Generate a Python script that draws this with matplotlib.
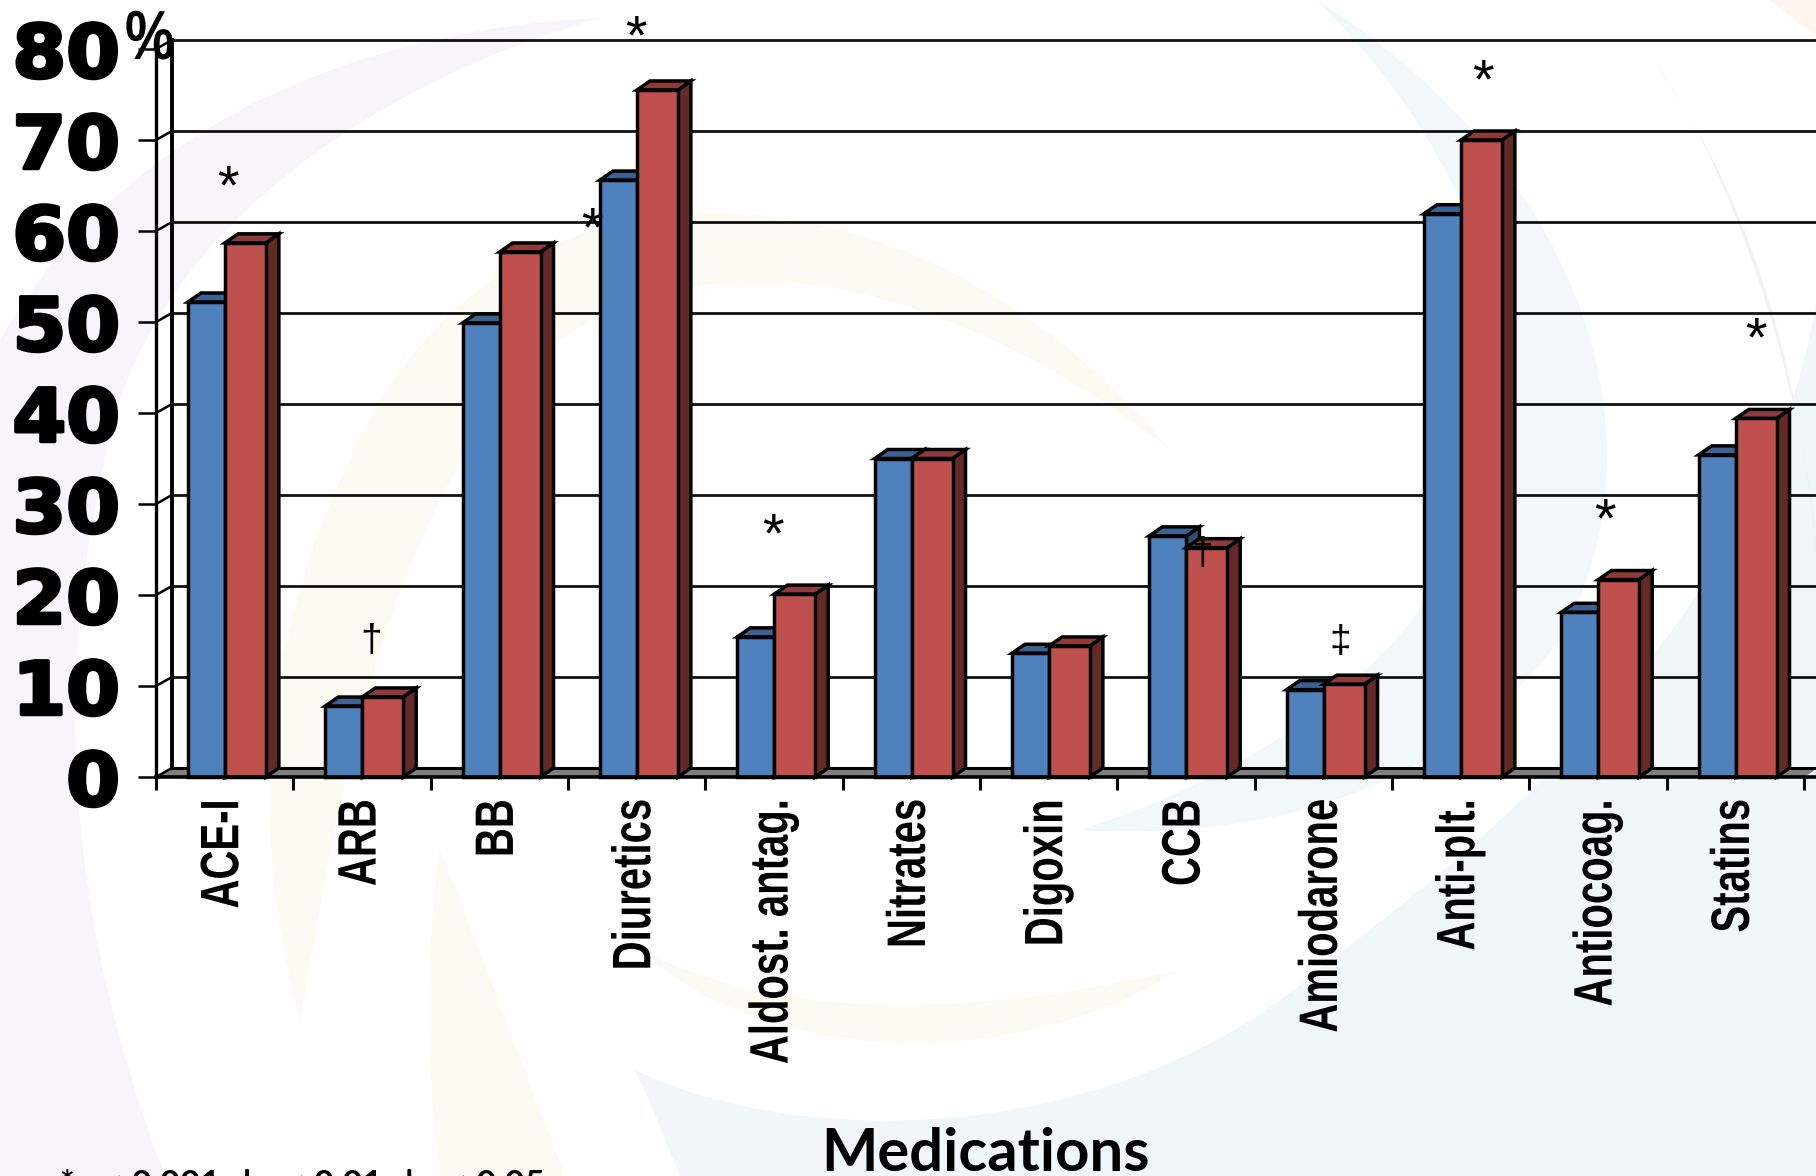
import matplotlib
matplotlib.use('Agg')
import matplotlib.pyplot as plt
import matplotlib.patheffects as pe
from matplotlib.path import Path
from matplotlib.patches import PathPatch
from matplotlib.transforms import Affine2D
import numpy as np

medications = ['ACE-I', 'ARB', 'BB', 'Diuretics', 'Aldost. antag.', 'Nitrates',
               'Digoxin', 'CCB', 'Amiodarone', 'Anti-plt.', 'Antiocoag.', 'Statins']
blue_values = [52.2, 7.8, 49.9, 65.6, 15.4, 35.0, 13.6, 26.5, 9.6, 61.9, 18.1, 35.4]
red_values = [58.7, 8.8, 57.7, 75.5, 20.1, 35.0, 14.4, 25.2, 10.2, 70.0, 21.7, 39.4]
y_ticks = [0, 10, 20, 30, 40, 50, 60, 70, 80]

# significance marks: symbol, x in category units, height in % units
marks = [('*', 0.525, 64.6), ('†', 1.565, 15.0), ('*', 3.174, 59.9), ('*', 3.495, 81.1),
         ('*', 4.49, 26.3), ('†', 7.62, 24.5), ('‡', 8.62, 14.8), ('*', 9.66, 76.2),
         ('*', 10.55, 28.0), ('*', 11.65, 47.9)]

W, H = 1816, 1176
LEFT, RIGHT, TOP, BOTTOM = 156, 1804, 49, 777
BLUE, BLUE_DARK, BLUE_SIDE = '#4f81bd', '#3b6291', '#2f4d73'
RED, RED_DARK, RED_SIDE = '#c0504d', '#8f3b39', '#632a28'


class Squeeze(pe.AbstractPathEffect):
    # rescales the glyphs along the string, holding the end of the string in place
    def __init__(self, sx, stroke=0):
        super().__init__()
        self.sx = sx
        self.stroke = stroke

    def draw_path(self, renderer, gc, tpath, affine, rgbFace=None):
        x1 = tpath.get_extents().x1
        squeeze = Affine2D().translate(-x1, 0).scale(self.sx, 1).translate(x1, 0)
        if self.stroke:
            gc0 = renderer.new_gc()
            gc0.copy_properties(gc)
            gc0.set_foreground('k')
            gc0.set_linewidth(self.stroke)
            renderer.draw_path(gc0, tpath, squeeze + affine, rgbFace)
            gc0.restore()
        renderer.draw_path(gc, tpath, squeeze + affine, rgbFace)


fig = plt.figure(figsize=(W / 100, H / 100), dpi=100, facecolor='white')
px = Affine2D().scale(1 / W, -1 / H).translate(0, 1) + fig.transFigure


def swoosh(start, curves, color):
    verts, codes = [start], [Path.MOVETO]
    for c in curves:
        verts += list(c)
        codes += [Path.CURVE4] * 3
    verts.append(start)
    codes.append(Path.CLOSEPOLY)
    fig.add_artist(PathPatch(Path(verts, codes), fc=color, ec='none', transform=px, zorder=-5))


# pale slide background
swoosh((600, 18), [((350, 30), (120, 130), (0, 340)), ((0, 600), (0, 900), (0, 1176)),
                   ((60, 1176), (110, 1176), (165, 1176)), ((60, 900), (50, 650), (120, 400)),
                   ((180, 220), (380, 80), (600, 18))], '#f7f4fa')
swoosh((1170, 450), [((950, 180), (560, 110), (380, 400)), ((270, 600), (240, 800), (300, 1020)),
                     ((340, 800), (380, 500), (560, 340)), ((720, 230), (950, 280), (1170, 450))], '#fbfbf4')
swoosh((440, 850), [((425, 950), (425, 1060), (440, 1176)), ((480, 1176), (520, 1176), (565, 1176)),
                    ((520, 1060), (480, 950), (440, 850))], '#fbfbf4')
swoosh((640, 950), [((800, 1030), (1000, 1010), (1180, 970)), ((1000, 1080), (760, 1060), (640, 950))], '#fbfbf4')
swoosh((1316, 0), [((1560, 150), (1680, 420), (1560, 640)), ((1440, 800), (1250, 840), (1080, 830)),
                   ((1300, 760), (1480, 620), (1500, 400)), ((1510, 250), (1420, 100), (1316, 0))], '#f2f8fa')
swoosh((635, 1070), [((800, 1150), (1120, 1150), (1330, 960)), ((1600, 760), (1780, 540), (1816, 300)),
                     ((1816, 600), (1816, 900), (1816, 1176)), ((1400, 1176), (1000, 1176), (680, 1176)),
                     ((665, 1140), (650, 1100), (635, 1070))], '#f1f6f9')
swoosh((1650, 55), [((1740, 180), (1800, 350), (1816, 560)), ((1816, 440), (1740, 170), (1650, 55))], '#eff3f6')
swoosh((1770, 0), [((1785, 12), (1800, 25), (1816, 35)), ((1816, 20), (1816, 10), (1816, 0)),
                   ((1800, 0), (1785, 0), (1770, 0))], '#fdf5ee')

ax = fig.add_axes([LEFT / W, 1 - BOTTOM / H, (RIGHT - LEFT) / W, (BOTTOM - TOP) / H])
ax.patch.set_alpha(0)
ax.set_xlim(0, 12)
ax.set_ylim(0, 80)
for side in ['top', 'right', 'bottom']:
    ax.spines[side].set_visible(False)
ax.spines['left'].set_linewidth(2.4)
ax.spines['left'].set_zorder(2)

# one pixel in data units
ux = 12 / (RIGHT - LEFT)
uy = 80 / (BOTTOM - TOP)
wall_dx, wall_dy = 16 * ux, 9 * uy
right_edge = (W - LEFT) * ux
bar_dx, bar_dy = 13 * ux, 9 * uy

# back wall and floor
ax.fill([0, wall_dx, right_edge, 12], [0, wall_dy, wall_dy, 0], color='#7f7f7f',
        zorder=1, clip_on=False)
ax.plot([wall_dx, right_edge], [wall_dy, wall_dy], color='k', lw=2.2, zorder=1.1, clip_on=False)
ax.plot([0, right_edge], [0, 0], color='k', lw=2.6, zorder=6, clip_on=False)
ax.plot([wall_dx, wall_dx], [wall_dy, 80 + wall_dy], color='k', lw=2.8, zorder=1.2, clip_on=False)
for v in y_ticks:
    ax.plot([0, wall_dx], [v, v + wall_dy], color='k', lw=1.8, zorder=1.2, clip_on=False)
    if v > 0:
        ax.plot([wall_dx, right_edge], [v + wall_dy, v + wall_dy], color='#111111', lw=2.0,
                zorder=1.2, clip_on=False)


def draw_bar(x0, x1, value, face, top, side, z):
    ax.fill([x1, x1 + bar_dx, x1 + bar_dx, x1], [0, bar_dy, value + bar_dy, value],
            fc=side, ec='k', lw=2.5, zorder=z, joinstyle='miter', clip_on=False)
    ax.fill([x0, x0 + bar_dx, x1 + bar_dx, x1], [value, value + bar_dy, value + bar_dy, value],
            fc=top, ec='k', lw=2.5, zorder=z, joinstyle='miter', clip_on=False)
    ax.bar(x0, value, x1 - x0, align='edge', color=face, edgecolor='k', linewidth=2.5,
           zorder=z + 0.1, clip_on=False)


for i in range(len(medications)):
    draw_bar(i + 0.233, i + 0.503, blue_values[i], BLUE, BLUE_DARK, BLUE_SIDE, 3)
    draw_bar(i + 0.503, i + 0.80, red_values[i], RED, RED_DARK, RED_SIDE, 4)

for sym, x, y in marks:
    ax.text(x, y, sym, fontsize=40 if sym == '*' else 28, family='Liberation Sans', ha='center',
            va='center', color='k', zorder=8, clip_on=False)

ax.set_yticks(y_ticks)
ax.set_yticklabels([str(v) for v in y_ticks], family='DejaVu Sans', fontweight='bold', fontsize=53)
for label in ax.get_yticklabels():
    label.set_path_effects([Squeeze(1.05, stroke=2.5)])
ax.tick_params(axis='y', length=13, width=1.8, pad=13, color='k')
ax.set_xticks(range(13))
ax.set_xticklabels([''] * 13)
ax.tick_params(axis='x', length=9.5, width=2.2, color='k')
ax.set_xticks(np.arange(12) + 0.497, minor=True)
ax.set_xticklabels(medications, minor=True, rotation=90, fontsize=39, fontweight='bold',
                   family='Liberation Sans')
for label in ax.get_xticklabels(minor=True):
    label.set_path_effects([Squeeze(0.74)])
ax.tick_params(axis='x', which='minor', length=0, pad=15.5)

fig.text(113 / W, 1 - 59 / H, '%', family='Liberation Sans', fontweight='bold', fontsize=50,
         color='k', ha='left', va='baseline', zorder=10, path_effects=[Squeeze(0.8)])
fig.text(986 / W, 1 - 1171 / H, 'Medications', family='Lato', fontweight='bold', fontsize=43,
         ha='center', va='baseline', color='k')
fig.text(60 / W, 1 - 1195 / H, '*p < 0.001, †p < 0.01, ‡p < 0.05', family='Lato', fontweight='bold',
         fontsize=25, ha='left', va='baseline', color='k')

fig.savefig('out.png', dpi=100)
